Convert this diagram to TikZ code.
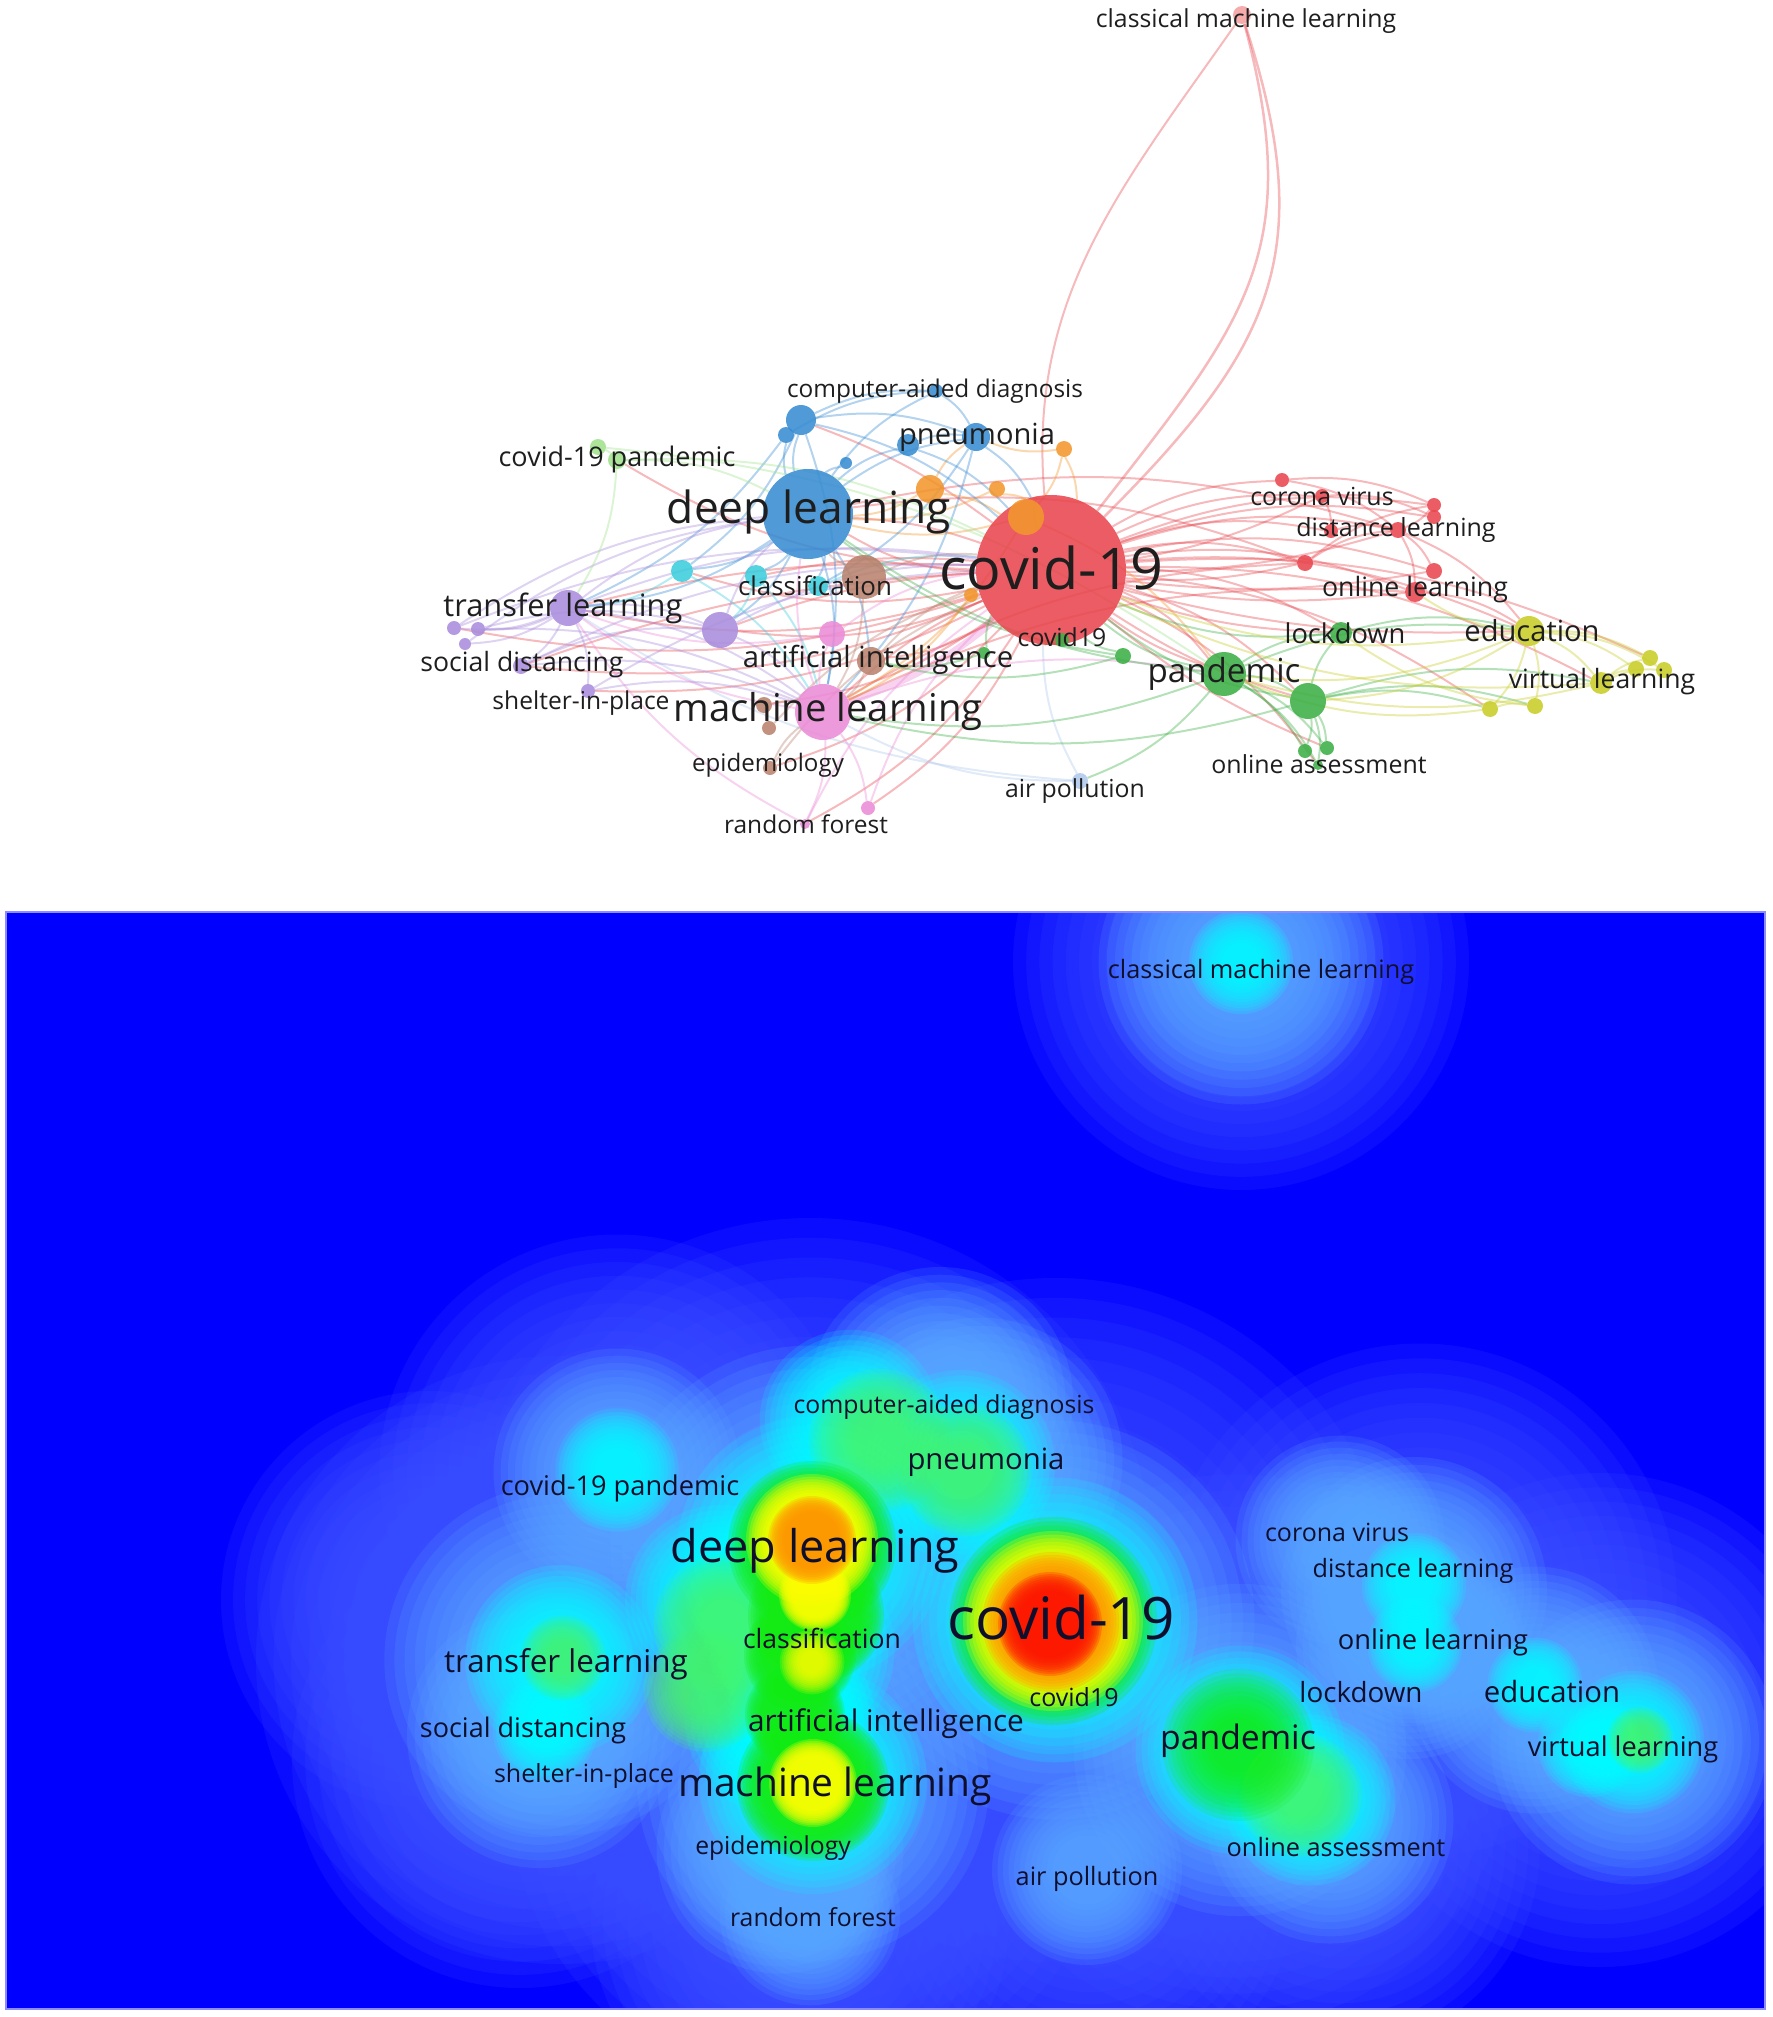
\documentclass[tikz,border=0pt]{standalone}
\usepackage{fontspec}
\setmainfont{Open Sans}
\usetikzlibrary{backgrounds}
\definecolor{cR}{RGB}{232,70,78}
\definecolor{cO}{RGB}{242,150,45}
\definecolor{cB}{RGB}{55,140,210}
\definecolor{cC}{RGB}{60,205,220}
\definecolor{cBr}{RGB}{185,130,110}
\definecolor{cP}{RGB}{170,140,220}
\definecolor{cPk}{RGB}{235,140,215}
\definecolor{cG}{RGB}{60,175,70}
\definecolor{cY}{RGB}{200,205,40}
\definecolor{cLG}{RGB}{160,225,140}
\definecolor{cLR}{RGB}{245,160,160}
\definecolor{cLB}{RGB}{175,200,235}
\definecolor{txt}{RGB}{30,30,30}
\definecolor{dtxt}{RGB}{15,15,45}
\definecolor{bdr}{RGB}{140,140,255}
\definecolor{hA}{RGB}{60,80,255}
\definecolor{hB}{RGB}{90,170,255}
\definecolor{hC}{RGB}{0,255,255}
\definecolor{hG}{RGB}{20,235,20}
\definecolor{hLG}{RGB}{70,245,110}
\definecolor{hY}{RGB}{255,255,0}
\definecolor{hO}{RGB}{255,150,0}
\definecolor{hR}{RGB}{255,20,0}
\tikzset{
  vnode/.style={circle, inner sep=0pt, draw=none, fill opacity=0.88},
  lbl/.style={inner sep=0pt, text=txt},
  dlbl/.style={inner sep=0pt, text=dtxt},
  lk/.style={line width=2pt, draw opacity=0.38},
}
\newcommand{\vn}[5]{\node[vnode, fill=#5, minimum size=#4pt] (#1) at (#2,#3) {};}
\newcommand{\lb}[5]{\node[lbl, font=\fontsize{#4}{#4}\selectfont] (#1) at (#2,#3) {#5};}
\newcommand{\db}[5]{\node[dlbl, font=\fontsize{#4}{#4}\selectfont] (#1) at (#2,#3) {#5};}
\newcommand{\lk}[3]{\draw[lk, #1] (#2) to[bend left=14] (#3);}
\newcommand{\lkr}[3]{\draw[lk, #1] (#2) to[bend right=8] (#3);}
% soft blob
\newcommand{\hb}[4]{\foreach \k in {0,...,11}{\fill[#1, fill opacity=0.16] (#2,#3) circle ({#4*(0.95-0.055*\k)});}}
% sharp blob
\newcommand{\hs}[4]{\foreach \k in {0,...,9}{\fill[#1, fill opacity=0.25] (#2,#3) circle ({#4*(1-0.04*\k)});}}
\begin{document}
\begin{tikzpicture}[x=1pt, y=-1pt]
\useasboundingbox (0,0) rectangle (1772,2017);
% ================= NETWORK NODES =================
\vn{cov}{1051}{570}{150}{cR}
\vn{cml}{1242}{15}{18}{cLR}
\vn{r1}{1282}{480}{14}{cR}
\vn{cv}{1322}{496}{14}{cR}
\vn{r3}{1434}{505}{14}{cR}
\vn{r4}{1434}{517}{14}{cR}
\vn{dla}{1331}{531}{14}{cR}
\vn{dl}{1398}{530}{16}{cR}
\vn{r7}{1305}{563}{16}{cR}
\vn{r8}{1434}{571}{16}{cR}
\vn{ol}{1415}{592}{20}{cR}
\vn{o1}{930}{489}{28}{cO}
\vn{o2}{997}{489}{16}{cO}
\vn{o3}{1064}{449}{16}{cO}
\vn{o4}{1026}{517}{36}{cO}
\vn{o5}{971}{595}{14}{cO}
\vn{deep}{808}{514}{90}{cB}
\vn{b1}{801}{420}{30}{cB}
\vn{b2}{786}{435}{16}{cB}
\vn{b3}{846}{463}{12}{cB}
\vn{b4}{908}{445}{22}{cB}
\vn{pn}{976}{437}{28}{cB}
\vn{cad}{936}{391}{14}{cB}
\vn{air}{1080}{781}{16}{cLB}
\vn{c1}{682}{571}{22}{cC}
\vn{c2}{756}{576}{22}{cC}
\vn{cls}{818}{586}{20}{cC}
\vn{br1}{864}{577}{44}{cBr}
\vn{ai}{871}{661}{28}{cBr}
\vn{br3}{764}{705}{16}{cBr}
\vn{br4}{769}{728}{14}{cBr}
\vn{epi}{770}{768}{14}{cBr}
\vn{tl}{568}{608}{36}{cP}
\vn{p2}{720}{630}{36}{cP}
\vn{p3}{454}{628}{14}{cP}
\vn{p4}{478}{629}{14}{cP}
\vn{p5}{465}{644}{12}{cP}
\vn{sd}{521}{666}{16}{cP}
\vn{sip}{588}{691}{14}{cP}
\vn{ml}{823}{712}{56}{cPk}
\vn{pk2}{832}{634}{26}{cPk}
\vn{rf}{805}{824}{10}{cPk}
\vn{pk4}{868}{808}{14}{cPk}
\vn{pan}{1224}{674}{44}{cG}
\vn{g2}{1308}{701}{36}{cG}
\vn{ld}{1341}{633}{22}{cG}
\vn{g4}{1123}{656}{16}{cG}
\vn{g5}{984}{653}{12}{cG}
\vn{c19}{1062}{640}{14}{cG}
\vn{oa1}{1305}{751}{14}{cG}
\vn{oa2}{1327}{748}{14}{cG}
\vn{oa}{1318}{765}{10}{cG}
\vn{cp1}{598}{447}{16}{cLG}
\vn{cp}{617}{460}{18}{cLG}
\vn{edu}{1529}{631}{30}{cY}
\vn{vl}{1601}{683}{22}{cY}
\vn{y1}{1650}{658}{16}{cY}
\vn{y2}{1636}{669}{16}{cY}
\vn{y3}{1664}{670}{16}{cY}
\vn{y4}{1490}{709}{16}{cY}
\vn{y5}{1535}{706}{16}{cY}
% ================= LINKS =================
\begin{pgfonlayer}{background}
\draw[lk, cR, line width=2.5pt] (cml) to[out=-72, in=45, looseness=1.2] (cov);
\draw[lk, cR, line width=2.5pt] (cml) to[out=-75, in=52, looseness=1.2] (cov);
\draw[lk, cR, line width=2pt] (cml) to[out=-125, in=95, looseness=1] (cov);
\draw[lk, cPk, line width=7pt] (cov) to[bend left=10] (ml);
\foreach \t in {cv,r1,dla,dl,r3,r4,r7,r8,ol,deep,ai,tl,sd,p2,rf,epi,pan,g2,edu,vl,sip,c1,p3,br3,pk4,oa,ld,y4,y1,cp}{
  \lk{cR}{cov}{\t}
}
\foreach \t in {deep,tl,ml,pan,g2,ld,edu,ol,dl,r7,cv,r8,sd,c2,p2,b1,oa2}{
  \lkr{cR}{cov}{\t}
}
\lk{cR}{r1}{r3} \lk{cR}{cv}{r4} \lk{cR}{dla}{dl} \lk{cR}{dl}{r8}
\lk{cR}{dl}{ol} \lk{cR}{r7}{dl} \lk{cR}{r3}{dl} \lk{cR}{cv}{dla}
\lk{cR}{r1}{dl} \lk{cR}{r7}{r3} \lk{cR}{ol}{edu} \lk{cR}{dl}{edu}
\lk{cR}{ml}{r7} \lk{cR}{deep}{r7} \lk{cR}{ml}{ol} \lk{cR}{deep}{dl}
\foreach \t in {o1,o2,o3,o4}{ \lk{cO}{\t}{cov} }
\lk{cO}{o1}{deep} \lk{cO}{o1}{pn} \lk{cO}{o3}{o4} \lk{cO}{o2}{deep} \lk{cO}{o3}{pn}
\lk{cO}{o5}{ml} \lk{cO}{o4}{ml} \lk{cO}{o4}{deep} \lk{cO}{o4}{pan}
\foreach \t in {b1,b2,b3,b4,pn,cad,tl,c1,cls,ml,ai,p2,c2}{ \lk{cB}{deep}{\t} }
\lk{cB}{b1}{pn} \lk{cB}{b4}{pn} \lk{cB}{cad}{pn} \lk{cB}{b1}{cad} \lk{cB}{b2}{cad}
\lk{cB}{pn}{cov} \lk{cB}{b4}{cov} \lk{cB}{b1}{cov} \lk{cB}{b1}{ml} \lk{cB}{pn}{ml}
\lk{cB}{b2}{tl} \lk{cB}{b1}{c1} \lk{cB}{pn}{cls}
\lk{cLB}{air}{cov} \lk{cLB}{air}{ml} \lk{cLB}{air}{tl}
\lk{cC}{c1}{tl} \lk{cC}{c1}{ml} \lk{cC}{c2}{ml} \lk{cC}{cls}{cov} \lk{cC}{c2}{p2}
\lk{cBr}{br1}{cov} \lk{cBr}{br1}{ml} \lk{cBr}{ai}{cov} \lk{cBr}{ai}{ml}
\lk{cBr}{br3}{ml} \lk{cBr}{epi}{ml} \lk{cBr}{br1}{deep} \lk{cBr}{epi}{cov} \lk{cBr}{br4}{cov}
\foreach \t in {p3,p4,p5,sd,sip,ml,p2,cov,deep}{ \lk{cP}{tl}{\t} }
\lk{cP}{p2}{ml} \lk{cP}{p2}{cov} \lk{cP}{sd}{ml} \lk{cP}{sip}{ml} \lk{cP}{p3}{cov}
\lk{cP}{p4}{ml} \lk{cP}{p5}{deep} \lk{cP}{sd}{cov} \lk{cP}{sip}{cov} \lk{cP}{p3}{deep}
\lk{cP}{p2}{deep} \lk{cP}{p4}{p2} \lk{cP}{sd}{p2}
\lk{cPk}{ml}{pk2} \lk{cPk}{ml}{rf} \lk{cPk}{ml}{pk4} \lk{cPk}{pk2}{cov}
\lk{cPk}{ml}{pan} \lk{cPk}{rf}{cov} \lk{cPk}{pk4}{cov} \lk{cPk}{ml}{deep} \lk{cPk}{rf}{tl}
\lk{cPk}{ml}{tl} \lk{cPk}{pk2}{tl}
\foreach \t in {g2,ld,oa1,oa2,oa,cov,ml,deep,edu,air}{ \lk{cG}{pan}{\t} }
\lk{cG}{g2}{oa} \lk{cG}{g2}{oa1} \lk{cG}{g2}{oa2} \lk{cG}{g2}{ld} \lk{cG}{g2}{cov}
\lk{cG}{ld}{cov} \lk{cG}{g4}{cov} \lk{cG}{g5}{cov} \lk{cG}{c19}{cov} \lk{cG}{g2}{vl}
\lk{cG}{g2}{y4} \lk{cG}{g2}{y5} \lk{cG}{ld}{edu} \lk{cG}{g5}{ai} \lk{cG}{g4}{ai}
\lk{cG}{g2}{ml} \lk{cG}{g4}{deep}
\lk{cLG}{cp}{deep} \lk{cLG}{cp}{cov} \lk{cLG}{cp1}{cp} \lk{cLG}{cp}{tl} \lk{cLG}{cp1}{pan}
\foreach \t in {vl,y1,y2,y3,y4,y5,cov,ol,g2,pan}{ \lk{cY}{edu}{\t} }
\lk{cY}{vl}{y1} \lk{cY}{vl}{y2} \lk{cY}{vl}{y3} \lk{cY}{y4}{pan} \lk{cY}{y5}{ld}
\lk{cY}{vl}{pan} \lk{cY}{vl}{cov} \lk{cY}{y4}{y5}
\end{pgfonlayer}
% ================= NETWORK LABELS =================
\lb{Lcml}{1246}{21}{24.8}{classical machine learning}
\lb{Lcad}{935}{391}{24.4}{computer-aided diagnosis}
\lb{Lpn}{977}{437}{29.1}{pneumonia}
\lb{Lcp}{617}{459}{27}{covid-19 pandemic}
\lb{Ldeep}{809}{512}{44.3}{deep learning}
\lb{Lcov}{1051}{568}{57.5}{covid-19}
\lb{Lcv}{1322}{496}{24.9}{corona virus}
\lb{Ldl}{1396}{530}{25}{distance learning}
\lb{Lol}{1415}{590}{26.7}{online learning}
\lb{Lld}{1345}{633}{27.3}{lockdown}
\lb{Ledu}{1532}{631}{29.1}{education}
\lb{Lvl}{1602}{682}{26.6}{virtual learning}
\lb{Lpan}{1224}{674}{33.1}{pandemic}
\lb{Loa}{1319}{764}{24.9}{online assessment}
\lb{Lair}{1075}{791}{24.8}{air pollution}
\lb{Lc19}{1062}{637}{24.8}{covid19}
\lb{Lcls}{815}{586}{25.9}{classification}
\lb{Ltl}{563}{608}{30.8}{transfer learning}
\lb{Lsd}{522}{665}{26.6}{social distancing}
\lb{Lsip}{581}{703}{24.6}{shelter-in-place}
\lb{Lai}{878}{660}{29.2}{artificial intelligence}
\lb{Lml}{828}{712}{38.3}{machine learning}
\lb{Lepi}{768}{765}{24.1}{epidemiology}
\lb{Lrf}{806}{824}{24.5}{random forest}
% ================= DENSITY MAP =================
\fill[blue] (6,912) rectangle (1765,2009);
\begin{scope}
\clip (6,912) rectangle (1765,2009);
% outer halo
\hb{hA}{1055}{1620}{360} \hb{hA}{810}{1560}{360} \hb{hA}{813}{1790}{320}
\hb{hA}{560}{1660}{320} \hb{hA}{617}{1472}{250} \hb{hA}{1235}{1750}{290}
\hb{hA}{1420}{1600}{270} \hb{hA}{1600}{1720}{260} \hb{hA}{1241}{962}{240}
\hb{hA}{800}{1920}{220} \hb{hA}{1090}{1880}{220} \hb{hA}{520}{1760}{240}
\hb{hA}{1340}{1850}{210} \hb{hA}{430}{1600}{220}
% light blue
\hb{hB}{1055}{1620}{210} \hb{hB}{810}{1545}{210} \hb{hB}{813}{1785}{185}
\hb{hB}{560}{1660}{185} \hb{hB}{617}{1472}{130} \hb{hB}{1240}{1750}{175}
\hb{hB}{1414}{1590}{140} \hb{hB}{1410}{1645}{120} \hb{hB}{1535}{1690}{130}
\hb{hB}{1633}{1742}{150} \hb{hB}{1241}{962}{150} \hb{hB}{540}{1735}{140}
\hb{hB}{780}{1850}{130} \hb{hB}{810}{1915}{95} \hb{hB}{1087}{1870}{100}
\hb{hB}{1330}{1820}{130} \hb{hB}{1340}{1540}{110} \hb{hB}{940}{1400}{140}
\hb{hB}{980}{1460}{150}
% cyan
\hb{hC}{1055}{1620}{150} \hb{hC}{810}{1550}{140} \hb{hC}{850}{1420}{95}
\hb{hC}{960}{1465}{100} \hb{hC}{813}{1780}{120} \hb{hC}{790}{1650}{110}
\hb{hC}{780}{1720}{100} \hb{hC}{560}{1660}{100} \hb{hC}{720}{1600}{100}
\hb{hC}{617}{1470}{65} \hb{hC}{1240}{1750}{110} \hb{hC}{1310}{1800}{90}
\hb{hC}{1414}{1585}{55} \hb{hC}{1415}{1645}{50} \hb{hC}{1535}{1685}{50}
\hb{hC}{1633}{1742}{75} \hb{hC}{1590}{1745}{55} \hb{hC}{1241}{962}{55}
\hb{hC}{545}{1730}{55}
% green
\hb{hLG}{880}{1440}{75} \hb{hLG}{965}{1470}{70}
\hb{hLG}{725}{1625}{75} \hb{hLG}{705}{1690}{65} \hb{hLG}{563}{1658}{45}
\hb{hLG}{1640}{1740}{35} \hb{hLG}{1300}{1795}{65}
\hs{hG}{1053}{1621}{104}
\hs{hG}{812}{1545}{84} \hs{hG}{816}{1615}{68}
\hs{hG}{800}{1655}{56} \hs{hG}{795}{1715}{50}
\hs{hG}{813}{1785}{76}
\hb{hG}{1238}{1745}{80}
% yellow
\hs{hY}{1053}{1621}{90} \hs{hY}{812}{1540}{66} \hs{hY}{815}{1595}{36}
\hs{hY}{813}{1783}{44} \hb{hY}{812}{1662}{34}
% orange
\hs{hO}{1052}{1622}{70} \hs{hO}{812}{1540}{44}
% red
\hs{hR}{1050}{1624}{52}
\end{scope}
\draw[bdr, line width=1.5pt] (6,912) rectangle (1765,2009);
% density labels
\db{Dcml}{1261}{972}{25.3}{classical machine learning}
\db{Dcad}{944}{1407}{24.8}{computer-aided diagnosis}
\db{Dpn}{986}{1462}{29.3}{pneumonia}
\db{Dcp}{620}{1488}{27.2}{covid-19 pandemic}
\db{Ddeep}{815}{1551}{45}{deep learning}
\db{Dcov}{1061}{1618}{58.5}{covid-19}
\db{Dcls}{822}{1638}{26.6}{classification}
\db{Dcv}{1337}{1532}{25}{corona virus}
\db{Ddl}{1413}{1571}{25.2}{distance learning}
\db{Dol}{1433}{1642}{27.3}{online learning}
\db{Dld}{1361}{1692}{27.8}{lockdown}
\db{Dedu}{1552}{1691}{29.3}{education}
\db{Dvl}{1623}{1749}{27.2}{virtual learning}
\db{Dpan}{1238}{1741}{33.7}{pandemic}
\db{Dtl}{566}{1664}{31.4}{transfer learning}
\db{Dsd}{523}{1730}{27}{social distancing}
\db{Dai}{886}{1724}{29.8}{artificial intelligence}
\db{Dsip}{584}{1776}{25}{shelter-in-place}
\db{Dml}{835}{1786}{38.9}{machine learning}
\db{Dc19}{1074}{1697}{25}{covid19}
\db{Depi}{773}{1848}{24.7}{epidemiology}
\db{Doa}{1336}{1847}{25.3}{online assessment}
\db{Dair}{1087}{1879}{25.3}{air pollution}
\db{Drf}{813}{1917}{24.8}{random forest}
\end{tikzpicture}
\end{document}
